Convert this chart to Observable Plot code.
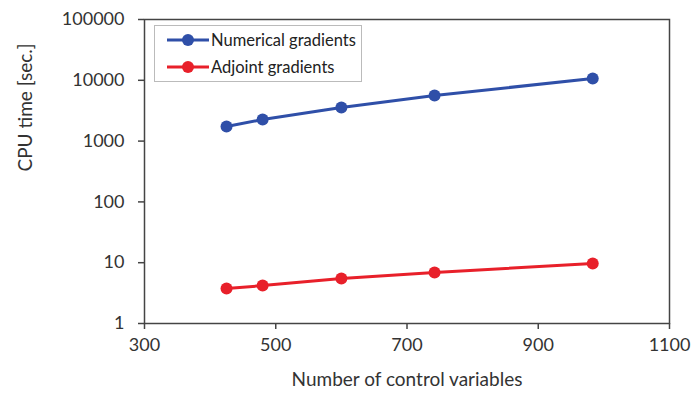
<!DOCTYPE html>
<html>
<head>
<meta charset="utf-8">
<script src="https://cdn.jsdelivr.net/npm/d3@7"></script>
<script src="https://cdn.jsdelivr.net/npm/@observablehq/plot@0.6"></script>
<style>
  body { margin: 0; background: #fff; }
  #wrap { position: relative; width: 692px; height: 397px; font-family: Lato, "Open Sans", sans-serif; }
  #legend { position: absolute; left: 154px; top: 25px; width: 208px; height: 57px; border: 1px solid #bbb; background: #fff; box-sizing: border-box; }
  .item { position: absolute; left: 12px; display: flex; align-items: center; font-size: 16.5px; color: #222; }
  .item svg { margin-right: 2px; }
</style>
</head>
<body>
<div id="wrap"><div id="legend"></div></div>
<script>
const controlVars = [425, 480, 600, 742, 983];
const numerical = [1740, 2260, 3570, 5620, 10700];
const adjoint = [3.76, 4.2, 5.5, 6.9, 9.7];
const xTicks = [300, 500, 700, 900, 1100];
const yTicks = [1, 10, 100, 1000, 10000, 100000];
const seriesNames = ["Numerical gradients", "Adjoint gradients"];
const seriesColors = ["#2f4fa8", "#e8202a"];

const rows = [];
controlVars.forEach((x, i) => {
  rows.push({x, y: numerical[i], s: seriesNames[0]});
  rows.push({x, y: adjoint[i], s: seriesNames[1]});
});

const chart = Plot.plot({
  width: 692,
  height: 397,
  marginLeft: 144,
  marginRight: 23,
  marginTop: 19,
  marginBottom: 74,
  style: {fontFamily: "Lato, 'Open Sans', sans-serif", fontSize: "18px", color: "#333", background: "#fff"},
  x: {domain: [300, 1100], ticks: xTicks, tickFormat: d => String(d), label: null},
  y: {type: "log", domain: [1, 100000], ticks: yTicks, tickFormat: d => String(d), label: null},
  color: {domain: seriesNames, range: seriesColors},
  marks: [
    Plot.frame({stroke: "#444", strokeWidth: 1.5}),
    Plot.axisX({ticks: xTicks, tickFormat: d => String(d), tickSize: 6, tickPadding: 9, fontSize: 18, stroke: "#444", strokeWidth: 1.5}),
    Plot.axisY({ticks: yTicks, tickFormat: d => String(d), tickSize: 6, tickPadding: 14, fontSize: 18, stroke: "#444", strokeWidth: 1.5}),
    Plot.line(rows, {x: "x", y: "y", z: "s", stroke: "s", strokeWidth: 3}),
    Plot.dot(rows, {x: "x", y: "y", fill: "s", r: 6}),
    Plot.text(["Number of control variables"], {frameAnchor: "bottom", dy: 62, fontSize: 19, fill: "#333"}),
    Plot.text(["CPU time [sec.]"], {frameAnchor: "left", dx: -119, rotate: -90, fontSize: 19, fill: "#333"})
  ]
});
document.getElementById("wrap").prepend(chart);
chart.style.position = "absolute";
chart.style.left = "0"; chart.style.top = "0";

const legend = document.getElementById("legend");
seriesNames.forEach((name, i) => {
  const d = document.createElement("div");
  d.className = "item";
  d.style.top = (i === 0 ? 4 : 31) + "px";
  d.innerHTML = `<svg width="42" height="14"><line x1="0" y1="7" x2="42" y2="7" stroke="${seriesColors[i]}" stroke-width="3"/><circle cx="21" cy="7" r="6" fill="${seriesColors[i]}"/></svg><span>${name}</span>`;
  legend.appendChild(d);
});
</script>
</body>
</html>
